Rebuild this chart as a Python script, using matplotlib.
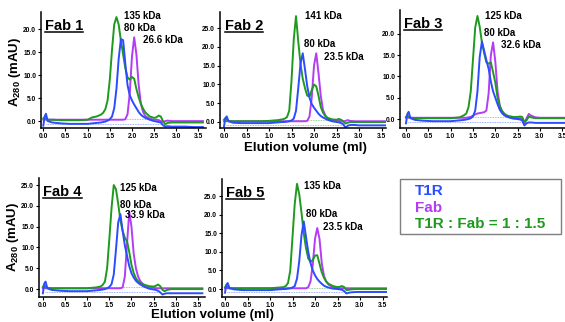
import matplotlib
matplotlib.use("Agg")
import matplotlib.pyplot as plt
from matplotlib.lines import Line2D

plt.rcParams['font.family'] = ['Liberation Sans', 'DejaVu Sans']
plt.rcParams['font.weight'] = 'bold'
plt.rcParams['mathtext.default'] = 'regular'

W, H = 565, 322

# ---------------- data (elution volume in ml, absorbance in mAU) ----------------
volume = [0.00, 0.03, 0.06, 0.10, 0.20, 0.40, 0.60, 0.80, 1.00, 1.10, 1.20, 1.30, 1.35,
          1.40, 1.45, 1.50, 1.55, 1.60, 1.65, 1.70, 1.75, 1.80, 1.85, 1.90, 1.95, 2.00,
          2.05, 2.10, 2.15, 2.20, 2.25, 2.30, 2.40, 2.50, 2.55, 2.60, 2.65, 2.70, 2.75,
          2.80, 2.90, 3.00, 3.20, 3.40, 3.60]

fab1_t1r = [-1.0, 1.0, 1.6, 0.0, -0.3, -0.5, -0.6, -0.6, -0.6, -0.5, -0.4, -0.3, -0.2,
            -0.1, 0.1, 0.4, 1.0, 2.8, 7.0, 13.5, 17.8, 17.6, 12.5, 7.8, 5.6, 4.5,
            3.6, 2.8, 2.0, 1.4, 1.0, 0.7, 0.3, 0.0, -0.1, -0.2, -0.3, -0.9, -1.2,
            -1.1, -1.2, -1.2, -1.2, -1.3, -1.3]
fab1_fab = [0.3, 0.4, 0.3, 0.3, 0.3, 0.3, 0.3, 0.3, 0.3, 0.3, 0.3, 0.3, 0.3,
            0.3, 0.3, 0.3, 0.3, 0.3, 0.3, 0.3, 0.3, 0.3, 0.4, 1.5, 6.0, 14.0,
            18.2, 14.5, 8.0, 3.8, 2.0, 1.1, 0.5, 0.3, 0.3, 0.2, 0.0, -0.2, 0.0,
            0.1, 0.0, 0.0, 0.0, 0.0, 0.0]
fab1_mix = [0.6, 0.8, 0.5, 0.3, 0.3, 0.2, 0.2, 0.2, 0.3, 0.8, 1.0, 1.4, 1.8,
            2.6, 4.5, 9.0, 15.5, 21.0, 22.6, 21.0, 17.5, 14.5, 11.5, 9.5, 9.0, 9.6,
            9.2, 7.0, 5.2, 3.8, 2.7, 1.9, 1.0, 0.7, 0.8, 1.2, 1.0, 0.0, -0.7,
            -0.4, -0.3, -0.3, -0.3, -0.3, -0.3]

fab2_t1r = [-1.2, 1.0, 1.5, 0.2, -0.2, -0.3, -0.3, -0.3, -0.3, -0.2, -0.1, 0.0, 0.0,
            0.1, 0.2, 0.4, 0.9, 3.0, 9.0, 15.5, 18.3, 14.0, 9.5, 6.5, 4.8, 3.8,
            3.0, 2.2, 1.6, 1.2, 0.9, 0.6, 0.2, 0.0, -0.1, -0.3, -0.6, -1.5, -1.0,
            -0.8, -0.8, -0.9, -0.9, -0.9, -0.9]
fab2_fab = [0.2, 0.3, 0.2, 0.2, 0.2, 0.2, 0.2, 0.2, 0.2, 0.2, 0.2, 0.2, 0.2,
            0.2, 0.2, 0.2, 0.2, 0.2, 0.2, 0.2, 0.2, 0.2, 0.3, 1.5, 6.5, 15.0,
            18.3, 13.0, 7.0, 3.2, 1.8, 1.0, 0.5, 0.3, 0.3, 0.2, 0.1, 0.3, 0.5,
            0.3, 0.2, 0.2, 0.2, 0.2, 0.2]
fab2_mix = [0.6, 1.0, 0.6, 0.3, 0.2, 0.2, 0.2, 0.2, 0.3, 0.4, 0.5, 0.7, 0.9,
            1.3, 3.0, 11.0, 22.0, 28.2, 21.5, 15.5, 11.5, 9.0, 7.0, 6.8, 8.5, 10.0,
            9.5, 7.0, 4.0, 2.5, 1.6, 1.1, 0.7, 0.6, 0.8, 0.6, 0.2, -0.4, -0.2,
            0.0, 0.0, 0.0, 0.0, 0.0, 0.0]

fab3_t1r = [-1.0, 1.2, 1.7, 0.2, -0.2, -0.4, -0.5, -0.5, -0.5, -0.4, -0.3, -0.2, -0.1,
            0.0, 0.2, 0.6, 2.0, 6.5, 14.5, 18.2, 16.0, 13.8, 11.8, 8.8, 6.5, 5.0,
            3.5, 2.2, 1.4, 0.9, 0.6, 0.4, 0.1, 0.0, -0.1, -0.3, -1.5, -1.0, -0.8,
            -0.8, -0.9, -0.9, -0.9, -0.9, -0.9]
fab3_fab = [0.3, 0.4, 0.3, 0.3, 0.3, 0.3, 0.3, 0.3, 0.3, 0.3, 0.3, 0.3, 0.3,
            0.4, 0.5, 0.8, 1.1, 1.3, 1.4, 1.5, 1.6, 2.0, 6.0, 15.0, 18.0, 13.5,
            6.5, 3.2, 1.8, 1.0, 0.7, 0.5, 0.3, 0.2, 0.2, 0.0, -1.2, 0.2, 1.2,
            0.8, 0.4, 0.3, 0.3, 0.3, 0.3]
fab3_mix = [0.5, 0.9, 0.5, 0.3, 0.2, 0.2, 0.2, 0.2, 0.2, 0.3, 0.4, 0.9, 1.3,
            2.8, 6.5, 14.0, 21.5, 24.2, 21.7, 18.0, 15.5, 13.3, 13.0, 13.3, 11.0, 8.5,
            5.0, 3.0, 1.9, 1.3, 0.9, 0.7, 0.5, 0.5, 0.6, 0.5, -0.6, -0.3, 0.6,
            0.4, 0.2, 0.2, 0.2, 0.2, 0.2]

fab4_t1r = [-1.0, 1.3, 1.8, 0.2, -0.2, -0.4, -0.5, -0.5, -0.5, -0.4, -0.3, -0.2, -0.1,
            0.0, 0.2, 0.5, 1.2, 3.5, 9.5, 16.0, 18.0, 14.0, 10.5, 8.0, 5.5, 3.8,
            2.8, 2.0, 1.5, 1.1, 0.8, 0.5, 0.1, -0.1, -0.2, -0.4, -0.8, -1.3, -1.1,
            -1.0, -1.0, -1.0, -1.0, -1.0, -1.0]
fab4_fab = [0.2, 0.3, 0.2, 0.2, 0.2, 0.2, 0.2, 0.2, 0.2, 0.2, 0.2, 0.2, 0.2,
            0.2, 0.2, 0.2, 0.2, 0.2, 0.2, 0.2, 0.2, 0.4, 3.0, 11.0, 18.6, 15.0,
            8.5, 5.0, 3.0, 1.9, 1.3, 0.9, 0.5, 0.3, 0.2, 0.2, 0.2, 0.2, 0.2,
            0.2, 0.2, 0.2, 0.2, 0.2, 0.2]
fab4_mix = [0.5, 1.0, 0.5, 0.3, 0.2, 0.2, 0.2, 0.2, 0.2, 0.3, 0.4, 0.6, 1.0,
            1.8, 5.0, 12.0, 19.5, 25.0, 24.0, 20.5, 16.5, 14.0, 12.3, 11.5, 8.9, 5.8,
            3.9, 2.6, 1.9, 1.5, 1.2, 1.0, 0.7, 0.6, 0.8, 1.1, 0.7, -0.2, -0.5,
            -0.2, 0.0, 0.0, 0.0, 0.0, 0.0]

fab5_t1r = [-1.0, 1.2, 1.6, 0.2, -0.1, -0.3, -0.3, -0.3, -0.3, -0.2, -0.1, 0.0, 0.0,
            0.1, 0.2, 0.4, 0.8, 2.8, 7.5, 14.5, 18.2, 14.0, 10.0, 7.0, 5.0, 3.7,
            2.7, 2.0, 1.4, 0.9, 0.6, 0.4, 0.1, 0.0, -0.1, -0.2, -0.6, -1.2, -1.0,
            -0.9, -0.8, -0.8, -0.8, -0.8, -0.8]
fab5_fab = [0.2, 0.3, 0.2, 0.2, 0.2, 0.2, 0.2, 0.2, 0.2, 0.2, 0.2, 0.2, 0.2,
            0.2, 0.2, 0.2, 0.2, 0.2, 0.2, 0.2, 0.2, 0.2, 0.5, 2.0, 6.5, 13.5,
            16.4, 13.5, 7.0, 3.5, 2.0, 1.2, 0.5, 0.3, 0.2, 0.2, 0.2, 0.2, 0.2,
            0.2, 0.2, 0.2, 0.2, 0.2, 0.2]
fab5_mix = [0.5, 1.0, 0.5, 0.3, 0.2, 0.2, 0.2, 0.2, 0.2, 0.3, 0.4, 0.5, 0.8,
            1.6, 5.0, 14.0, 23.0, 28.3, 25.5, 20.5, 15.0, 11.0, 8.2, 7.3, 7.8, 9.0,
            9.1, 6.8, 4.5, 3.0, 2.0, 1.4, 0.8, 0.5, 0.6, 0.8, 0.5, -0.3, -0.2,
            -0.1, 0.0, 0.0, 0.0, 0.0, 0.0]

panel_names = ["Fab 1", "Fab 2", "Fab 3", "Fab 4", "Fab 5"]
mix_labels = ["135 kDa", "141 kDa", "125 kDa", "125 kDa", "135 kDa"]
t1r_labels = ["80 kDa", "80 kDa", "80 kDa", "80 kDa", "80 kDa"]
fab_labels = ["26.6 kDa", "23.5 kDa", "32.6 kDa", "33.9 kDa", "23.5 kDa"]
legend_labels = ["T1R", "Fab", "T1R : Fab = 1 : 1.5"]

xticks = [0.0, 0.5, 1.0, 1.5, 2.0, 2.5, 3.0, 3.5]
yticks_per_panel = [[0, 5, 10, 15, 20], [0, 5, 10, 15, 20, 25], [0, 5, 10, 15, 20],
                    [0, 5, 10, 15, 20, 25], [0, 5, 10, 15, 20, 25]]

# integration baselines (dotted)
base_t1r_x = [0.05, 2.65]
base_t1r_y = [-0.7, -0.7]
base_mix_x = [1.0, 2.6]
base_mix_y = [0.4, 0.4]

series_t1r = [fab1_t1r, fab2_t1r, fab3_t1r, fab4_t1r, fab5_t1r]
series_fab = [fab1_fab, fab2_fab, fab3_fab, fab4_fab, fab5_fab]
series_mix = [fab1_mix, fab2_mix, fab3_mix, fab4_mix, fab5_mix]

# ---------------- layout ----------------
BLUE = "#2b4cff"
MAGENTA = "#b43cf5"
GREEN = "#1e9a1e"

# pixel boxes: left, top, right, bottom ; xlim ; ylim
boxes = [(41, 12, 206, 128), (220, 12, 386, 128), (400, 10, 565, 128),
         (39, 178, 205, 297), (222, 179, 387, 297)]
xlims = [(-0.052, 3.67), (-0.089, 3.6), (-0.134, 3.56), (-0.088, 3.66), (-0.067, 3.6)]
ylims = [(-1.5, 23.7), (-1.6, 29.3), (-2.1, 25.6), (-1.9, 26.7), (-2.15, 29.6)]
# label anchor positions (data coords)
mix_pos = [(1.83, 22.8), (1.80, 28.2), (1.77, 24.2), (1.74, 24.3), (1.76, 27.7)]
t1r_pos = [(1.83, 20.2), (1.78, 20.7), (1.75, 20.2), (1.74, 20.2), (1.80, 20.2)]
fab_pos = [(2.26, 17.6), (2.22, 17.3), (2.13, 17.4), (1.85, 17.8), (2.18, 16.7)]
title_px = [(45, 30), (225, 30), (404, 28), (43, 196), (226, 197)]

fig = plt.figure(figsize=(W / 100, H / 100), dpi=100)
fig.patch.set_facecolor("white")

titles = []
for i in range(5):
    l, t, r, b = boxes[i]
    ax = fig.add_axes([l / W, 1 - b / H, (r - l) / W, (b - t) / H])
    ax.set_facecolor("none")
    ax.plot(base_t1r_x, base_t1r_y, color=BLUE, lw=0.6, ls=(0, (1, 1)), alpha=0.6)
    ax.plot(base_mix_x, base_mix_y, color=GREEN, lw=0.6, ls=(0, (1, 1)), alpha=0.6)
    ax.plot(volume, series_fab[i], color=MAGENTA, lw=1.4, solid_joinstyle='round')
    ax.plot(volume, series_mix[i], color=GREEN, lw=1.4, solid_joinstyle='round')
    ax.plot(volume, series_t1r[i], color=BLUE, lw=1.4, solid_joinstyle='round')
    ax.set_xlim(*xlims[i])
    ax.set_ylim(*ylims[i])
    ax.set_xticks(xticks)
    ax.set_xticklabels([f"{v:.1f}" for v in xticks])
    ax.set_yticks(yticks_per_panel[i])
    ax.set_yticklabels([f"{v:.1f}" for v in yticks_per_panel[i]])
    for s in ["top", "right"]:
        ax.spines[s].set_visible(False)
    for s in ["left", "bottom"]:
        ax.spines[s].set_linewidth(1.1)
    ax.tick_params(axis="both", labelsize=4.8, length=2, width=0.8, pad=1.5)
    for lab in ax.get_xticklabels() + ax.get_yticklabels():
        lab.set_fontweight("bold")
    ax.text(*mix_pos[i], mix_labels[i], fontsize=7, fontweight="bold", va="center", ha="left")
    ax.text(*t1r_pos[i], t1r_labels[i], fontsize=7, fontweight="bold", va="center", ha="left")
    ax.text(*fab_pos[i], fab_labels[i], fontsize=7, fontweight="bold", va="center", ha="left")
    tx, ty = title_px[i]
    titles.append(fig.text(tx / W, 1 - ty / H, panel_names[i], fontsize=10.5,
                           fontweight="bold", ha="left", va="baseline"))

# axis labels
for cx, cy in [(15, 72), (13, 237)]:
    fig.text(cx / W, 1 - cy / H, "A$_{280}$ (mAU)", rotation=90, fontsize=9.5,
             fontweight="bold", ha="center", va="center")
fig.text(305 / W, 1 - 148 / H, "Elution volume (ml)", fontsize=9.5, fontweight="bold",
         ha="center", va="center")
fig.text(212 / W, 1 - 315 / H, "Elution volume (ml)", fontsize=9.5, fontweight="bold",
         ha="center", va="center")

# legend box
lx0, ly0, lx1, ly1 = 400, 179, 561, 234
fig.add_artist(plt.Rectangle((lx0 / W, 1 - ly1 / H), (lx1 - lx0) / W, (ly1 - ly0) / H,
                             transform=fig.transFigure, fill=False, edgecolor="#7f7f7f", lw=1.0))
for lab, col, cy in zip(legend_labels, [BLUE, MAGENTA, GREEN], [191, 208, 224]):
    fig.text(415 / W, 1 - cy / H, lab, color=col, fontsize=11, fontweight="bold",
             ha="left", va="center")

# underline titles
fig.canvas.draw()
renderer = fig.canvas.get_renderer()
for tt, (tx, ty) in zip(titles, title_px):
    bb = tt.get_window_extent(renderer)
    yline = H - ty - 2.2
    fig.add_artist(Line2D([bb.x0 / W, bb.x1 / W], [yline / H, yline / H],
                          transform=fig.transFigure, color="black", lw=1.1))

fig.savefig("out.png", dpi=100, facecolor="white")
